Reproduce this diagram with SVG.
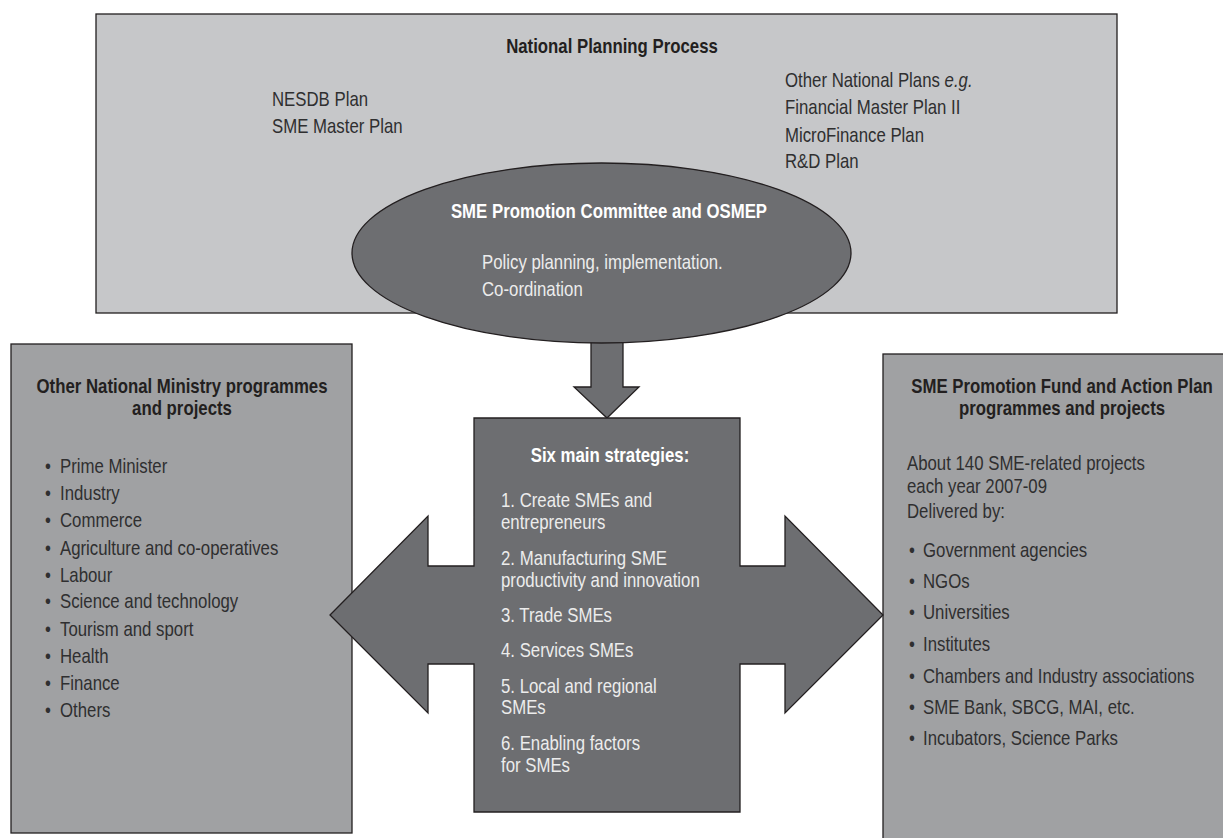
<svg xmlns="http://www.w3.org/2000/svg" width="1223" height="838" viewBox="0 0 1223 838">
<style>
text{font-family:'Liberation Sans',Arial,sans-serif;font-size:20px}
.b{font-weight:bold}
.dk{fill:#231f20}
.bd{fill:#2f2f30}
.wt{fill:#ffffff}
.lt{fill:#ececec}
.mid{text-anchor:middle}
.light{fill:#c6c7c9;stroke:#231f20;stroke-width:1.3}
.side{fill:#a0a1a3;stroke:#231f20;stroke-width:1.3}
.dark{fill:#6d6e71;stroke:#231f20;stroke-width:1.3}
</style>
<g id="national-planning">
<rect class="light" x="96" y="14" width="1021" height="299"/>
<g transform="scale(0.84,1)">
<text class="b dk mid" x="728.57" y="53">National Planning Process</text>
<text class="bd" x="323.81" y="106">NESDB Plan</text>
<text class="bd" x="323.81" y="133">SME Master Plan</text>
<text class="bd" x="934.52" y="87">Other National Plans <tspan font-style="italic">e.g.</tspan></text>
<text class="bd" x="934.52" y="114">Financial Master Plan II</text>
<text class="bd" x="934.52" y="142">MicroFinance Plan</text>
<text class="bd" x="934.52" y="168">R&amp;D Plan</text>
</g>
</g>
<g id="connectors">
<polygon class="dark" points="591,336 623,336 623,387 639,387 607,418 574,387 591,387"/>
</g>
<g id="committee">
<ellipse class="dark" cx="601.5" cy="253" rx="249.5" ry="90"/>
<g transform="scale(0.84,1)">
<text class="b wt mid" x="725" y="218">SME Promotion Committee and OSMEP</text>
<text class="lt" x="573.81" y="269">Policy planning, implementation.</text>
<text class="lt" x="573.81" y="296">Co-ordination</text>
</g>
</g>
<g id="ministries">
<rect class="side" x="11" y="344" width="341" height="489"/>
<g transform="scale(0.84,1)">
<text class="b dk mid" x="216.67" y="393">Other National Ministry programmes</text>
<text class="b dk mid" x="216.67" y="415">and projects</text>
<g class="bd">
<text x="53.57" y="473">•</text><text x="71.43" y="473">Prime Minister</text>
<text x="53.57" y="500">•</text><text x="71.43" y="500">Industry</text>
<text x="53.57" y="527">•</text><text x="71.43" y="527">Commerce</text>
<text x="53.57" y="555">•</text><text x="71.43" y="555">Agriculture and co-operatives</text>
<text x="53.57" y="582">•</text><text x="71.43" y="582">Labour</text>
<text x="53.57" y="608">•</text><text x="71.43" y="608">Science and technology</text>
<text x="53.57" y="636">•</text><text x="71.43" y="636">Tourism and sport</text>
<text x="53.57" y="663">•</text><text x="71.43" y="663">Health</text>
<text x="53.57" y="690">•</text><text x="71.43" y="690">Finance</text>
<text x="53.57" y="717">•</text><text x="71.43" y="717">Others</text>
</g>
</g>
</g>
<g id="fund">
<rect class="side" x="883" y="354" width="360" height="500"/>
<g transform="scale(0.84,1)">
<text class="b dk mid" x="1264.29" y="393">SME Promotion Fund and Action Plan</text>
<text class="b dk mid" x="1264.29" y="415">programmes and projects</text>
<g class="bd">
<text x="1079.76" y="470">About 140 SME-related projects</text>
<text x="1079.76" y="493">each year 2007-09</text>
<text x="1079.76" y="518">Delivered by:</text>
<text x="1082.14" y="557">•</text><text x="1098.81" y="557">Government agencies</text>
<text x="1082.14" y="588">•</text><text x="1098.81" y="588">NGOs</text>
<text x="1082.14" y="619">•</text><text x="1098.81" y="619">Universities</text>
<text x="1082.14" y="651">•</text><text x="1098.81" y="651">Institutes</text>
<text x="1082.14" y="683">•</text><text x="1098.81" y="683">Chambers and Industry associations</text>
<text x="1082.14" y="714">•</text><text x="1098.81" y="714">SME Bank, SBCG, MAI, etc.</text>
<text x="1082.14" y="745">•</text><text x="1098.81" y="745">Incubators, Science Parks</text>
</g>
</g>
</g>
<g id="strategies">
<polygon class="dark" points="474,418 740,418 740,566 785,566 785,516 883,615 785,713 785,664 740,664 740,812 474,812 474,664 428,664 428,713 330,615 428,516 428,566 474,566"/>
<g transform="scale(0.84,1)">
<text class="b wt mid" x="726.19" y="462">Six main strategies:</text>
<g class="lt">
<text x="596.43" y="507">1. Create SMEs and</text>
<text x="596.43" y="529">entrepreneurs</text>
<text x="596.43" y="565">2. Manufacturing SME</text>
<text x="596.43" y="587">productivity and innovation</text>
<text x="596.43" y="622">3. Trade SMEs</text>
<text x="596.43" y="657">4. Services SMEs</text>
<text x="596.43" y="693">5. Local and regional</text>
<text x="596.43" y="714">SMEs</text>
<text x="596.43" y="750">6. Enabling factors</text>
<text x="596.43" y="772">for SMEs</text>
</g>
</g>
</g>
</svg>
